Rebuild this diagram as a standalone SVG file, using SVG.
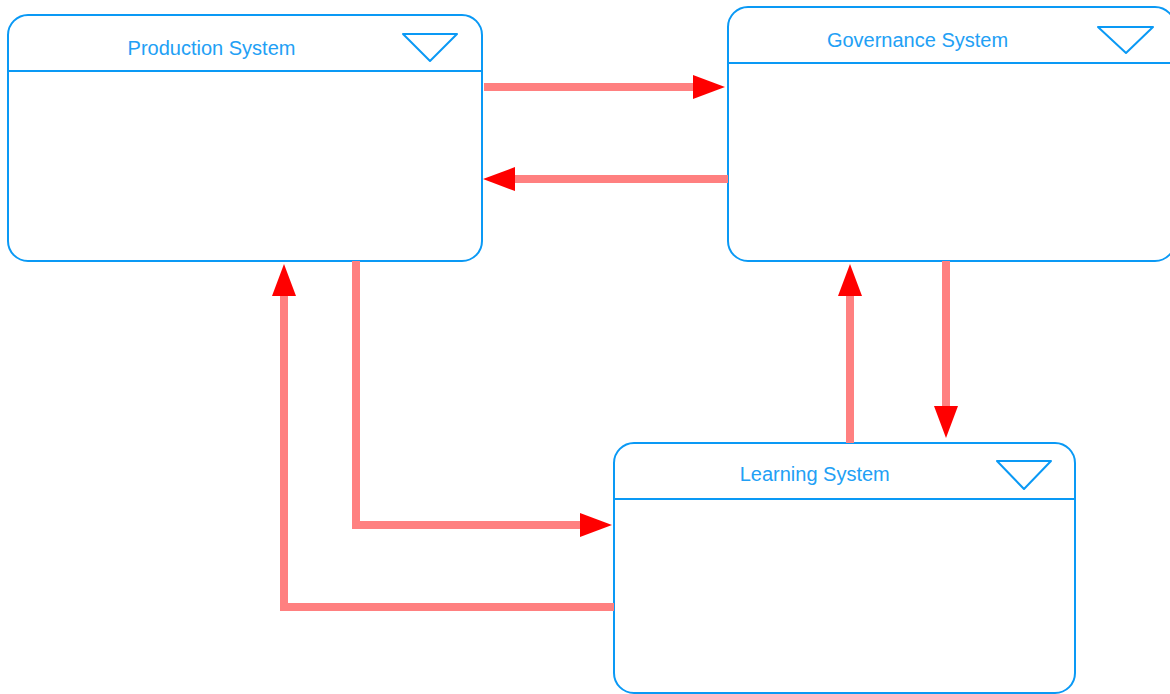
<svg xmlns="http://www.w3.org/2000/svg" width="1170" height="694" viewBox="0 0 1170 694">
<style>
.box{fill:#ffffff;stroke:#0a99f5;stroke-width:2}
.sep{stroke:#0a99f5;stroke-width:2}
.tri{fill:none;stroke:#0a99f5;stroke-width:2;stroke-linejoin:round}
.lbl{font-family:"Liberation Sans",Arial,sans-serif;font-size:20px;fill:#22a0f5;text-anchor:middle}
.con{fill:none;stroke:#ff8080;stroke-width:8;marker-end:url(#ah)}
</style>
<defs>
<marker id="ah" viewBox="0 0 32 24" markerWidth="32" markerHeight="24" refX="0" refY="12" orient="auto" markerUnits="userSpaceOnUse">
<path d="M0,0 L32,12 L0,24 z" fill="#ff0000"/>
</marker>
</defs>
<g id="production">
<rect class="box" x="8" y="15" width="474" height="246" rx="20" ry="20"/>
<line class="sep" x1="8" y1="71" x2="482" y2="71"/>
<polygon class="tri" points="403,34 457,34 430,61"/>
<text class="lbl" x="211.5" y="55">Production System</text>
</g>
<g id="governance">
<rect class="box" x="728" y="7" width="447" height="254" rx="20" ry="20"/>
<line class="sep" x1="728" y1="63" x2="1175" y2="63"/>
<polygon class="tri" points="1098,27 1153,27 1126,53"/>
<text class="lbl" x="917.5" y="47">Governance System</text>
</g>
<g id="learning">
<rect class="box" x="614" y="443" width="461" height="250" rx="20" ry="20"/>
<line class="sep" x1="614" y1="499" x2="1075" y2="499"/>
<polygon class="tri" points="997,461 1051,461 1024,489"/>
<text class="lbl" x="814.7" y="481">Learning System</text>
</g>
<g id="connectors">
<path class="con" d="M484,87 H693"/>
<path class="con" d="M728,179 H515"/>
<path class="con" d="M356,261 V525 H580"/>
<path class="con" d="M614,607 H284 V296"/>
<path class="con" d="M850,443 V296"/>
<path class="con" d="M946,261 V406"/>
</g>
</svg>
